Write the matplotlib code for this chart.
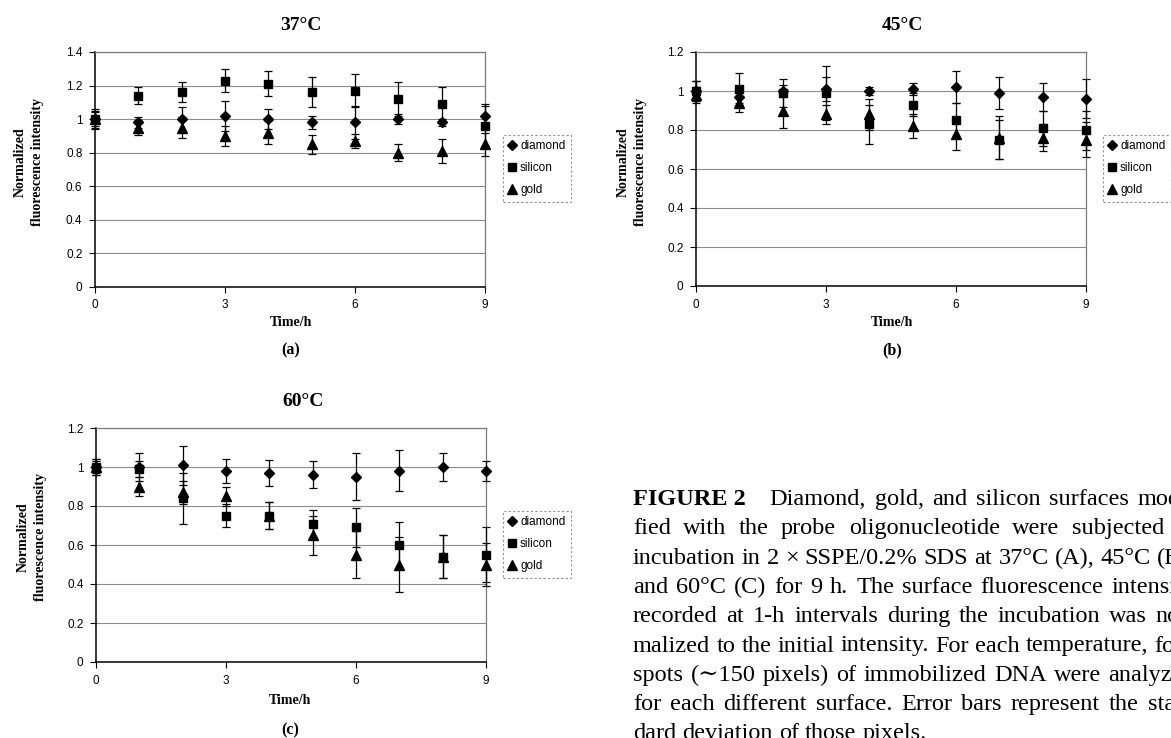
import matplotlib
matplotlib.use("Agg")
import matplotlib.pyplot as plt
from matplotlib.lines import Line2D
from matplotlib.ticker import FuncFormatter, FixedLocator

# ---------------- data ----------------
hours = [0, 1, 2, 3, 4, 5, 6, 7, 8, 9]
series_names = ["diamond", "silicon", "gold"]

# 37 C
a_diamond = [1.00, 0.98, 1.00, 1.02, 1.00, 0.98, 0.98, 1.00, 0.98, 1.02]
a_diamond_err = [0.05, 0.03, 0.07, 0.09, 0.06, 0.04, 0.10, 0.03, 0.02, 0.07]
a_silicon = [1.00, 1.14, 1.16, 1.23, 1.21, 1.16, 1.17, 1.12, 1.09, 0.96]
a_silicon_err = [0.06, 0.05, 0.06, 0.07, 0.075, 0.09, 0.10, 0.10, 0.10, 0.12]
a_gold = [1.00, 0.95, 0.95, 0.90, 0.92, 0.85, 0.87, 0.80, 0.81, 0.85]
a_gold_err = [0.04, 0.045, 0.06, 0.06, 0.07, 0.055, 0.04, 0.05, 0.07, 0.07]

# 45 C
b_diamond = [1.00, 0.97, 1.00, 1.01, 1.00, 1.01, 1.02, 0.99, 0.97, 0.96]
b_diamond_err = [0.05, 0.03, 0.03, 0.06, 0.02, 0.03, 0.08, 0.08, 0.07, 0.10]
b_silicon = [1.00, 1.01, 0.99, 0.99, 0.83, 0.93, 0.85, 0.75, 0.81, 0.80]
b_silicon_err = [0.05, 0.08, 0.07, 0.14, 0.10, 0.06, 0.09, 0.10, 0.09, 0.10]
b_gold = [0.98, 0.94, 0.90, 0.88, 0.88, 0.82, 0.78, 0.76, 0.76, 0.75]
b_gold_err = [0.04, 0.05, 0.09, 0.05, 0.08, 0.06, 0.08, 0.11, 0.07, 0.09]

# 60 C
c_diamond = [1.00, 1.00, 1.01, 0.98, 0.97, 0.96, 0.95, 0.98, 1.00, 0.98]
c_diamond_err = [0.04, 0.07, 0.10, 0.06, 0.065, 0.07, 0.12, 0.105, 0.07, 0.05]
c_silicon = [1.00, 0.99, 0.84, 0.75, 0.75, 0.71, 0.69, 0.60, 0.54, 0.55]
c_silicon_err = [0.04, 0.04, 0.13, 0.06, 0.07, 0.07, 0.10, 0.12, 0.11, 0.14]
c_gold = [1.00, 0.90, 0.87, 0.85, 0.75, 0.65, 0.55, 0.50, 0.54, 0.50]
c_gold_err = [0.03, 0.05, 0.06, 0.05, 0.07, 0.10, 0.12, 0.14, 0.11, 0.11]

titles = ["37\u00b0C", "45\u00b0C", "60\u00b0C"]
panel_labels = ["(a)", "(b)", "(c)"]
y_tops = [1.4, 1.2, 1.2]
x_ticks = [0, 3, 6, 9]
x_label = "Time/h"
y_label = "Normalized\nfluorescence intensity"

caption_lines = [
    "Diamond, gold, and silicon surfaces modi-",
    "fied with the probe oligonucleotide were subjected to",
    "incubation in 2 \u00d7 SSPE/0.2% SDS at 37\u00b0C (A), 45\u00b0C (B),",
    "and 60\u00b0C (C) for 9 h. The surface fluorescence intensity",
    "recorded at 1-h intervals during the incubation was nor-",
    "malized to the initial intensity. For each temperature, four",
    "spots (\u223c150 pixels) of immobilized DNA were analyzed",
    "for each different surface. Error bars represent the stan-",
    "dard deviation of those pixels.",
]

# ---------------- layout ----------------
W, H = 1171, 738
fig = plt.figure(figsize=(W / 100, H / 100), dpi=100)
fig.patch.set_facecolor("white")

SANS = ["Liberation Sans", "DejaVu Sans"]
SERIF = ["Liberation Serif", "DejaVu Serif"]


def fx(x):
    return x / W


def fy(y):
    return 1 - y / H


def fmt(v, pos):
    s = f"{v:.1f}"
    if s.endswith(".0"):
        s = s[:-2]
    return s


panels = [
    dict(box=(95, 52, 485, 287), data=[(a_diamond, a_diamond_err), (a_silicon, a_silicon_err), (a_gold, a_gold_err)],
         title=(301, 25), ylab=(29, 162), xlab=(291, 322), plab=(291, 350), leg=(503, 135)),
    dict(box=(696, 52, 1086, 286), data=[(b_diamond, b_diamond_err), (b_silicon, b_silicon_err), (b_gold, b_gold_err)],
         title=(902, 25), ylab=(632, 162), xlab=(892, 322), plab=(892, 350), leg=(1103, 135)),
    dict(box=(96, 428, 486, 662), data=[(c_diamond, c_diamond_err), (c_silicon, c_silicon_err), (c_gold, c_gold_err)],
         title=(303, 401), ylab=(32, 537), xlab=(290, 700), plab=(290, 730), leg=(503, 511)),
]

markers = {"diamond": ("D", 5.2), "silicon": ("s", 5.6), "gold": ("^", 6.5)}
draw_order = ["diamond", "gold", "silicon"]

for i, p in enumerate(panels):
    l, t, r, b = p["box"]
    ax = fig.add_axes([fx(l), fy(b), fx(r) - fx(l), fy(t) - fy(b)])
    ax.set_xlim(0, 9)
    ax.set_ylim(0, y_tops[i])
    ax.xaxis.set_major_locator(FixedLocator(x_ticks))
    yt = [round(k * 0.2, 1) for k in range(int(round(y_tops[i] / 0.2)) + 1)]
    ax.yaxis.set_major_locator(FixedLocator(yt))
    ax.yaxis.set_major_formatter(FuncFormatter(fmt))
    for yv in yt[1:]:
        ax.axhline(yv, color="#8c8c8c", lw=0.8, zorder=0)
    ax.spines["left"].set_color("black")
    ax.spines["bottom"].set_color("black")
    ax.spines["left"].set_linewidth(1.1)
    ax.spines["bottom"].set_linewidth(1.1)
    ax.spines["top"].set_color("#7a7a7a")
    ax.spines["right"].set_color("#7a7a7a")
    ax.spines["top"].set_linewidth(0.9)
    ax.spines["right"].set_linewidth(0.9)
    ax.tick_params(direction="out", length=4, width=0.8, pad=5, labelsize=8.5)
    for lab in ax.get_xticklabels() + ax.get_yticklabels():
        lab.set_fontfamily(SANS)

    data = dict(zip(series_names, p["data"]))
    for name in draw_order:
        vals, errs = data[name]
        m, ms = markers[name]
        ax.errorbar(hours, vals, yerr=errs, fmt=m, color="black", ms=ms, mfc="black", mec="black",
                    ecolor="black", elinewidth=0.9, capsize=3.0, capthick=0.9, clip_on=False, zorder=3)

    fig.text(fx(p["title"][0]), fy(p["title"][1]), titles[i], ha="center", va="center",
             fontsize=14, fontweight="bold", family=SERIF)
    fig.text(fx(p["ylab"][0]), fy(p["ylab"][1]), y_label, ha="center", va="center", rotation=90,
             fontsize=10, fontweight="bold", family=SERIF, linespacing=1.35)
    fig.text(fx(p["xlab"][0]), fy(p["xlab"][1]), x_label, ha="center", va="center",
             fontsize=10, fontweight="bold", family=SERIF)
    fig.text(fx(p["plab"][0]), fy(p["plab"][1]), panel_labels[i], ha="center", va="center",
             fontsize=11.5, fontweight="bold", family=SERIF)

    handles = [Line2D([], [], marker=markers[n][0], ms=markers[n][1], color="black", ls="none") for n in series_names]
    leg = fig.legend(handles, series_names, loc="upper left",
                     bbox_to_anchor=(fx(p["leg"][0]), fy(p["leg"][1])), bbox_transform=fig.transFigure,
                     frameon=True, fancybox=False, borderaxespad=0, borderpad=0.45,
                     handlelength=0.7, handletextpad=0.3, labelspacing=0.85,
                     prop={"family": SANS, "size": 8.5})
    fr = leg.get_frame()
    fr.set_edgecolor("#777777")
    fr.set_linewidth(0.8)
    fr.set_linestyle((0, (2, 2)))

# ---------------- caption (justified) ----------------
fig.canvas.draw()
renderer = fig.canvas.get_renderer()
CAP_SIZE = 17.5
cap_x = 633
baselines = [505 + k * 29.3 for k in range(len(caption_lines))]


def measure(s, weight="normal"):
    t = fig.text(0, 0, s, fontsize=CAP_SIZE, family=SERIF, fontweight=weight)
    w = t.get_window_extent(renderer).width
    t.remove()
    return w


space_w = measure("a b") - measure("ab")
head = "FIGURE 2"
head_w = measure(head, "bold")
head_gap = 24

natural = []
for k, line in enumerate(caption_lines):
    words = line.split(" ")
    w = sum(measure(wd) for wd in words) + space_w * (len(words) - 1)
    if k == 0:
        w += head_w + head_gap
    natural.append(w)
target = max(natural[:-1])

for k, line in enumerate(caption_lines):
    y = fy(baselines[k])
    x0 = cap_x
    if k == 0:
        fig.text(fx(x0), y, head, fontsize=CAP_SIZE, family=SERIF, fontweight="bold", va="baseline")
        x0 += head_w + head_gap
    words = line.split(" ")
    widths = [measure(wd) for wd in words]
    avail = cap_x + target - x0
    if k < len(caption_lines) - 1 and len(words) > 1:
        gap = (avail - sum(widths)) / (len(words) - 1)
    else:
        gap = space_w
    x = x0
    for wd, ww in zip(words, widths):
        fig.text(fx(x), y, wd, fontsize=CAP_SIZE, family=SERIF, va="baseline")
        x += ww + gap

fig.savefig("out.png", dpi=100, facecolor="white")
